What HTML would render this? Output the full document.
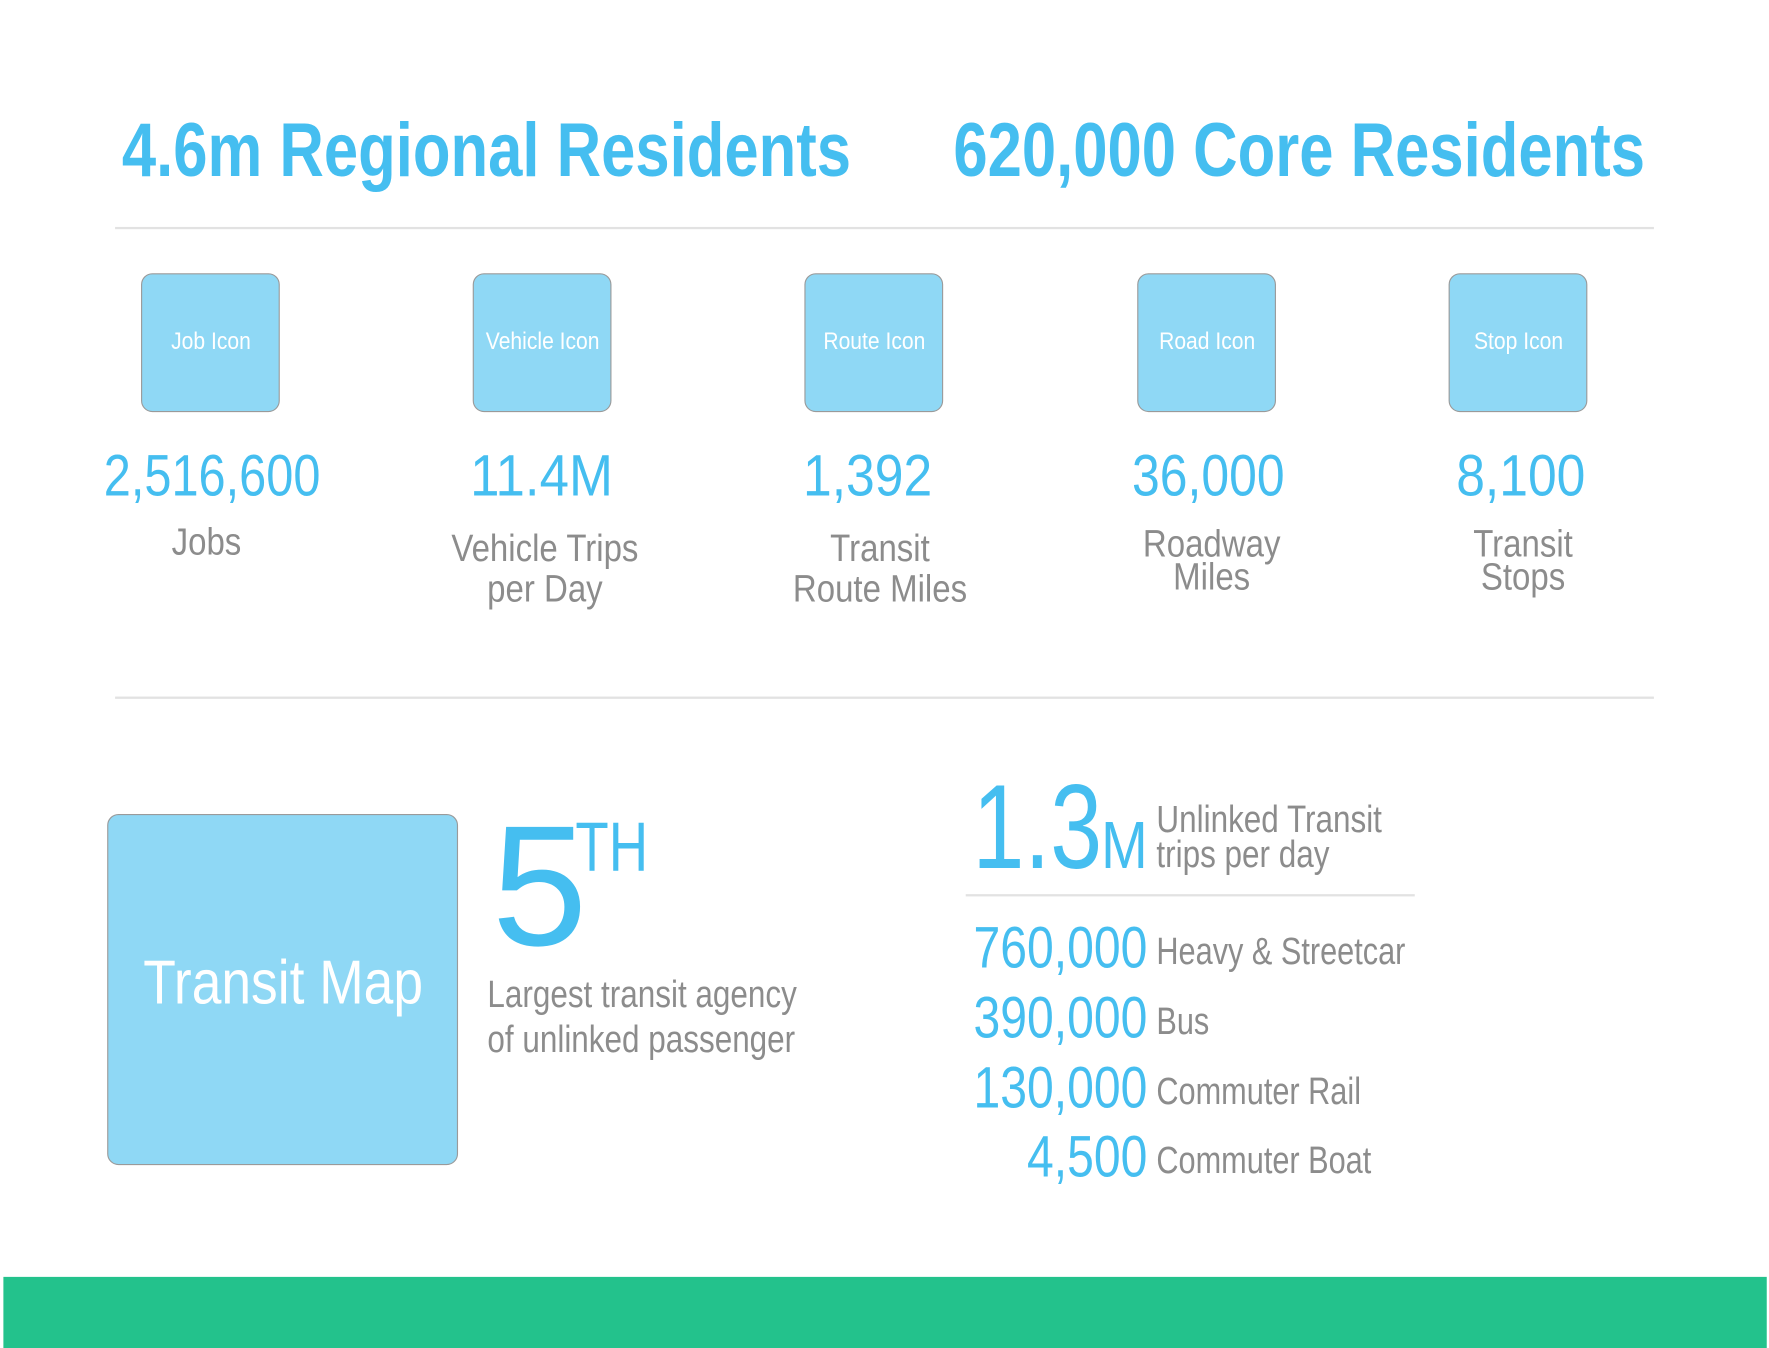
<!DOCTYPE html>
<html><head><meta charset="utf-8"><style>
html,body{margin:0;padding:0;background:#fff;width:1769px;height:1348px;overflow:hidden}
#wrap{position:absolute;left:0;top:0;width:1568px;height:1194px;transform:scale(1.12819,1.12898);transform-origin:0 0;font-family:"Liberation Sans",sans-serif}
.t{position:absolute;white-space:nowrap;line-height:1;transform-origin:0 0}
.c{transform-origin:50% 0}
.r{transform-origin:100% 0}
.blue{color:#45BEF0}.gray{color:#8C8C8C}
.hr{position:absolute;height:2px;background:#e2e2e2}
.icon{position:absolute;width:123px;height:123px;background:#8FD8F5;border:1px solid #9a9a9a;border-radius:10px;box-sizing:border-box}
.icon span{position:absolute;left:50%;top:60px;transform:translate(-50%,-50%) scaleX(0.89);color:#fff;font-size:21px;white-space:nowrap}
</style></head><body>
<div id="wrap">
<div class="t blue" style="left:108px;top:100px;font-size:67px;font-weight:bold;transform:scaleX(0.815)">4.6m Regional Residents</div>
<div class="t blue" style="left:845px;top:100px;font-size:67px;font-weight:bold;transform:scaleX(0.815)">620,000 Core Residents</div>
<div class="hr" style="left:102px;top:201px;width:1364px"></div>

<div class="icon" style="left:125px;top:242px"><span>Job Icon</span></div>
<div class="icon" style="left:419px;top:242px"><span>Vehicle Icon</span></div>
<div class="icon" style="left:713px;top:242px"><span>Route Icon</span></div>
<div class="icon" style="left:1008px;top:242px"><span>Road Icon</span></div>
<div class="icon" style="left:1284px;top:242px"><span>Stop Icon</span></div>

<div class="t blue c" style="left:188px;top:396px;font-size:52px;transform:translateX(-50%) scaleX(0.83)">2,516,600</div>
<div class="t blue c" style="left:480px;top:396px;font-size:52px;transform:translateX(-50%) scaleX(0.9)">11.4M</div>
<div class="t blue c" style="left:769px;top:396px;font-size:52px;transform:translateX(-50%) scaleX(0.88)">1,392</div>
<div class="t blue c" style="left:1071px;top:396px;font-size:52px;transform:translateX(-50%) scaleX(0.85)">36,000</div>
<div class="t blue c" style="left:1348px;top:396px;font-size:52px;transform:translateX(-50%) scaleX(0.88)">8,100</div>

<div class="t gray c" style="left:183px;top:463px;font-size:34px;transform:translateX(-50%) scaleX(0.86)">Jobs</div>
<div class="t gray c" style="left:483px;top:468px;font-size:34px;line-height:36px;text-align:center;transform:translateX(-50%) scaleX(0.86)">Vehicle Trips<br>per Day</div>
<div class="t gray c" style="left:780px;top:468px;font-size:34px;line-height:36px;text-align:center;transform:translateX(-50%) scaleX(0.86)">Transit<br>Route Miles</div>
<div class="t gray c" style="left:1074px;top:468px;font-size:34px;line-height:29px;text-align:center;transform:translateX(-50%) scaleX(0.86)">Roadway<br>Miles</div>
<div class="t gray c" style="left:1350px;top:468px;font-size:34px;line-height:29px;text-align:center;transform:translateX(-50%) scaleX(0.86)">Transit<br>Stops</div>

<div class="hr" style="left:102px;top:617px;width:1364px"></div>

<div class="icon" style="left:95px;top:721px;width:311px;height:311px"><span style="font-size:55px;top:148px;transform:translate(-50%,-50%) scaleX(0.86)">Transit Map</span></div>

<div class="t blue" style="left:436px;top:709px;font-size:152px">5</div>
<div class="t blue" style="left:510px;top:720px;font-size:62px;transform:scaleX(0.78)">TH</div>
<div class="t gray" style="left:432px;top:861px;font-size:34px;line-height:40px;transform:scaleX(0.82)">Largest transit agency<br>of unlinked passenger</div>

<div class="t blue" style="left:862px;top:680px;font-size:106px;transform:scaleX(0.78)">1.3</div>
<div class="t blue" style="left:976px;top:720px;font-size:59px;transform:scaleX(0.84)">M</div>
<div class="t gray" style="left:1025px;top:711px;font-size:34px;line-height:31px;transform:scaleX(0.82)">Unlinked Transit<br>trips per day</div>
<div class="hr" style="left:856px;top:792px;width:398px"></div>

<div class="t blue r" style="left:1017px;top:814px;font-size:52px;transform:translateX(-100%) scaleX(0.82)">760,000</div>
<div class="t gray" style="left:1025px;top:826px;font-size:34px;transform:scaleX(0.8)">Heavy &amp; Streetcar</div>
<div class="t blue r" style="left:1017px;top:876px;font-size:52px;transform:translateX(-100%) scaleX(0.82)">390,000</div>
<div class="t gray" style="left:1025px;top:888px;font-size:34px;transform:scaleX(0.8)">Bus</div>
<div class="t blue r" style="left:1017px;top:938px;font-size:52px;transform:translateX(-100%) scaleX(0.82)">130,000</div>
<div class="t gray" style="left:1025px;top:950px;font-size:34px;transform:scaleX(0.8)">Commuter Rail</div>
<div class="t blue r" style="left:1017px;top:999px;font-size:52px;transform:translateX(-100%) scaleX(0.82)">4,500</div>
<div class="t gray" style="left:1025px;top:1011px;font-size:34px;transform:scaleX(0.8)">Commuter Boat</div>

<div style="position:absolute;left:3px;top:1131px;width:1563px;height:63px;background:#23C28C"></div>
</div>
</body></html>
